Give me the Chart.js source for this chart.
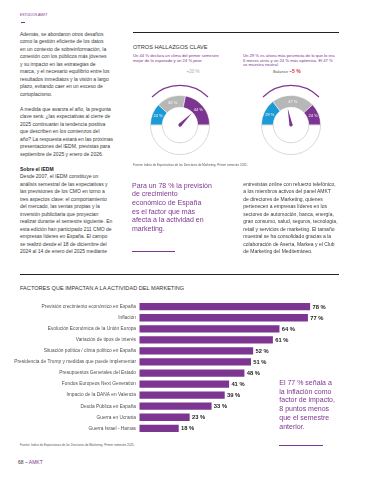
<!DOCTYPE html>
<html lang="es">
<head>
<meta charset="utf-8">
<script src="https://cdn.jsdelivr.net/npm/chart.js@4.4.1/dist/chart.umd.min.js"></script>
<style>
  html,body{margin:0;padding:0;background:#fff;}
  body{width:371px;height:480px;position:relative;overflow:hidden;font-family:"Liberation Sans",Arial,sans-serif;color:#3a3a3a;}
  .a{position:absolute;white-space:nowrap;}
  .rule{position:absolute;background:#222;height:1px;}
  .pline{position:absolute;background:#7d3592;height:1.3px;}
  canvas{position:absolute;}
</style>
</head>
<body>

<div class="a" style="left:20px;top:13px;font-size:3.4px;line-height:4px;color:#7d3592;">ESTUDIOS AMKT</div>
<div class="pline" style="left:20.5px;top:21.5px;width:4.5px;height:0.8px;"></div>

<div class="a" style="left:20px;top:30.55px;font-size:5px;line-height:7.5px;">
Además, se abordaron otros desafíos<br>
como la gestión eficiente de los datos<br>
en un contexto de sobreinformación, la<br>
conexión con los públicos más jóvenes<br>
y su impacto en las estrategias de<br>
marca, y el necesario equilibrio entre los<br>
resultados inmediatos y la visión a largo<br>
plazo, evitando caer en un exceso de<br>
cortoplacismo.<br>
<br>
A medida que avanza el año, la pregunta<br>
clave será: ¿las expectativas al cierre de<br>
2025 continuarán la tendencia positiva<br>
que describen en los comienzos del<br>
año? La respuesta estará en las próximas<br>
presentaciones del IEDM, previstas para<br>
septiembre de 2025 y enero de 2026.<br>
<br>
<b style="color:#222;">Sobre el IEDM</b><br>
Desde 2007, el IEDM constituye un<br>
análisis semestral de las expectativas y<br>
las previsiones de los CMO en torno a<br>
tres aspectos clave: el comportamiento<br>
del mercado, las ventas propias y la<br>
inversión publicitaria que proyectan<br>
realizar durante el semestre siguiente. En<br>
esta edición han participado 211 CMO de<br>
empresas líderes en España. El campo<br>
se realizó desde el 18 de diciembre del<br>
2024 al 14 de enero del 2025 mediante
</div>

<div class="rule" style="left:133px;top:32px;width:206px;"></div>
<div class="a" style="left:133px;top:44px;font-size:5.6px;line-height:6px;color:#333;">OTROS HALLAZGOS CLAVE</div>
<div class="a" style="left:133px;top:53.9px;font-size:4.2px;line-height:4.7px;color:#7d3592;">
Un 44 % declara un clima del primer semestre<br>
mejor de lo esperado y un 24 % peor.
</div>
<div class="a" style="left:243px;top:53.9px;font-size:4.2px;line-height:4.7px;color:#7d3592;">
Un 29 % es ahora más pesimista de lo que lo era<br>
6 meses atrás y un 24 % más optimista. El 47 %<br>
se muestra neutral.
</div>

<div class="a" style="left:186.5px;top:69px;font-size:4.5px;line-height:5px;color:#a8a8a8;">+20 %</div>
<div class="a" style="left:273px;top:69px;font-size:4.2px;line-height:5px;color:#555;">Balance <b style="color:#d8343f;font-size:5px;">–5 %</b></div>

<canvas id="gauge1" width="96" height="96" style="left:132px;top:77px;width:96px;height:96px;"></canvas>
<canvas id="gauge2" width="96" height="96" style="left:243px;top:77px;width:96px;height:96px;"></canvas>

<div class="a" style="left:133px;top:164px;font-size:3px;line-height:3.4px;color:#555;">Fuente: Índice de Expectativas de los Directores de Marketing. Primer semestre 2025.</div>

<div class="a" style="left:132px;top:181.7px;font-size:7px;line-height:8.66px;color:#7d3592;">
Para un 78 % la previsión<br>
de crecimiento<br>
económico de España<br>
es el factor que más<br>
afecta a la actividad en<br>
marketing.
</div>
<div class="pline" style="left:132px;top:251px;width:43px;"></div>

<div class="a" style="left:243.3px;top:180.55px;font-size:5px;line-height:7.5px;">
entrevistas online con refuerzo telefónico,<br>
a los miembros activos del panel AMKT<br>
de directores de Marketing, quienes<br>
pertenecen a empresas líderes en los<br>
sectores de automoción, banca, energía,<br>
gran consumo, salud, seguros, tecnología,<br>
retail y servicios de marketing. El tamaño<br>
muestral se ha consolidado gracias a la<br>
colaboración de Aserta, Markea y el Club<br>
de Marketing del Mediterráneo.
</div>

<div class="rule" style="left:20px;top:273.8px;width:319.3px;"></div>
<div class="a" style="left:20px;top:284.7px;font-size:5.6px;line-height:6px;color:#333;">FACTORES QUE IMPACTAN A LA ACTIVIDAD DEL MARKETING</div>

<canvas id="bars" width="371" height="145" style="left:0;top:295px;width:371px;height:145px;"></canvas>

<div class="a" style="left:279.3px;top:378.9px;font-size:7px;line-height:8.8px;color:#7d3592;">
El 77 % señala a<br>
la inflación como<br>
factor de impacto,<br>
8 puntos menos<br>
que el semestre<br>
anterior.
</div>
<div class="pline" style="left:279.3px;top:445px;width:43.4px;"></div>

<div class="a" style="left:20px;top:444px;font-size:3px;line-height:3.4px;color:#555;">Fuente: Índice de Expectativas de los Directores de Marketing. Primer semestre 2025.</div>
<div class="a" style="left:18px;top:460px;font-size:5px;line-height:5.5px;color:#333;">68 – <span style="color:#7d3592;">AMKT</span></div>

<script>
// ---------- data ----------
const factorLabels = [
  'Previsión crecimiento económico en España',
  'Inflación',
  'Evolución Económica de la Unión Europa',
  'Variación de tipos de interés',
  'Situación política / clima político en España',
  'Presidencia de Trump y medidas que puede implementar',
  'Presupuestos Generales del Estado',
  'Fondos Europeos Next Generation',
  'Impacto de la DANA en Valencia',
  'Deuda Pública en España',
  'Guerra en Ucrania',
  'Guerra Israel - Hamas'
];
const factorValues = [78, 77, 64, 61, 52, 51, 48, 41, 39, 33, 23, 18];

const gaugeSegments = ['Peor / más pesimista', 'Neutral', 'Mejor / más optimista'];
const gauge1Values = [24, 32, 44];   // clima del primer semestre
const gauge2Values = [29, 47, 24];   // expectativas vs. 6 meses atrás
const gaugeBalances = [20, -5];

// ---------- styles ----------
const PURPLE = '#7d3592';
const BLUE = '#1b9ad6';
const GREY = '#b7b7b7';
const FONT = '"Liberation Sans", Arial, sans-serif';

// ---------- bar chart ----------
const barValueLabels = {
  id: 'barValueLabels',
  afterDatasetsDraw(chart) {
    const ctx = chart.ctx;
    const meta = chart.getDatasetMeta(0);
    ctx.save();
    ctx.font = 'bold 5.8px ' + FONT;
    ctx.fillStyle = '#222';
    ctx.textAlign = 'left';
    ctx.textBaseline = 'middle';
    meta.data.forEach((bar, i) => {
      ctx.fillText(factorValues[i] + ' %', bar.x + 2.3, bar.y + 0.3);
    });
    ctx.restore();
  }
};

new Chart(document.getElementById('bars'), {
  type: 'bar',
  data: {
    labels: factorLabels,
    datasets: [{
      data: factorValues,
      backgroundColor: PURPLE,
      borderWidth: 0,
      barPercentage: 0.66,
      categoryPercentage: 1
    }]
  },
  options: {
    indexAxis: 'y',
    responsive: false,
    animation: false,
    devicePixelRatio: 1,
    layout: { padding: { top: 5, bottom: 4, left: 0, right: 12.7 } },
    plugins: { legend: { display: false }, tooltip: { enabled: false } },
    scales: {
      x: { display: false, min: 0, max: 100 },
      y: {
        grid: { display: false, drawTicks: false },
        border: { display: false },
        ticks: { autoSkip: false, padding: 3.3, color: '#505050', font: { family: FONT, size: 4.8 } },
        afterFit(scale) { scale.width = 139.3; }
      }
    }
  },
  plugins: [barValueLabels]
});

// ---------- gauges ----------
const gaugeDecor = {
  id: 'gaugeDecor',
  afterDatasetsDraw(chart, args, opts) {
    const ctx = chart.ctx;
    const els = chart.getDatasetMeta(0).data;
    const cx = els[0].x, cy = els[0].y, R = els[0].outerRadius;
    ctx.save();
    // segment labels
    ctx.font = '4px ' + FONT;
    ctx.fillStyle = '#fff';
    ctx.textAlign = 'center';
    ctx.textBaseline = 'middle';
    opts.values.forEach((v, i) => {
      const p = els[i].getCenterPoint();
      ctx.fillText(v + ' %', p.x, p.y);
    });
    // outer purple arc
    ctx.strokeStyle = PURPLE;
    ctx.lineWidth = 1.1;
    ctx.beginPath();
    ctx.arc(cx, cy, R + 10, -0.75 * Math.PI, -0.25 * Math.PI);
    ctx.stroke();
    // needle
    const ang = opts.balance * 2.25 * Math.PI / 180;
    ctx.translate(cx, cy);
    ctx.rotate(ang);
    ctx.fillStyle = PURPLE;
    ctx.beginPath();
    ctx.moveTo(-1.6, 0);
    ctx.lineTo(0, -17);
    ctx.lineTo(1.6, 0);
    ctx.closePath();
    ctx.fill();
    ctx.beginPath();
    ctx.arc(0, 0, 1.6, 0, Math.PI * 2);
    ctx.fill();
    ctx.restore();
  }
};

function makeGauge(id, values, balance) {
  const total = values.reduce((a, b) => a + b, 0);
  new Chart(document.getElementById(id), {
    type: 'doughnut',
    data: {
      labels: [...gaugeSegments, ''],
      datasets: [{
        data: [...values, total],
        backgroundColor: [BLUE, GREY, PURPLE, '#ffffff'],
        borderColor: ['#ffffff', '#ffffff', '#ffffff', '#cfcfcf'],
        borderWidth: [0.5, 0.5, 0.5, 0.8]
      }]
    },
    options: {
      responsive: false,
      animation: false,
      devicePixelRatio: 1,
      rotation: -90,
      circumference: 360,
      cutout: '60%',
      layout: { padding: 18 },
      plugins: {
        legend: { display: false },
        tooltip: { enabled: false },
        gaugeDecor: { values: values, balance: balance }
      }
    },
    plugins: [gaugeDecor]
  });
}
makeGauge('gauge1', gauge1Values, gaugeBalances[0]);
makeGauge('gauge2', gauge2Values, gaugeBalances[1]);
</script>
</body>
</html>
